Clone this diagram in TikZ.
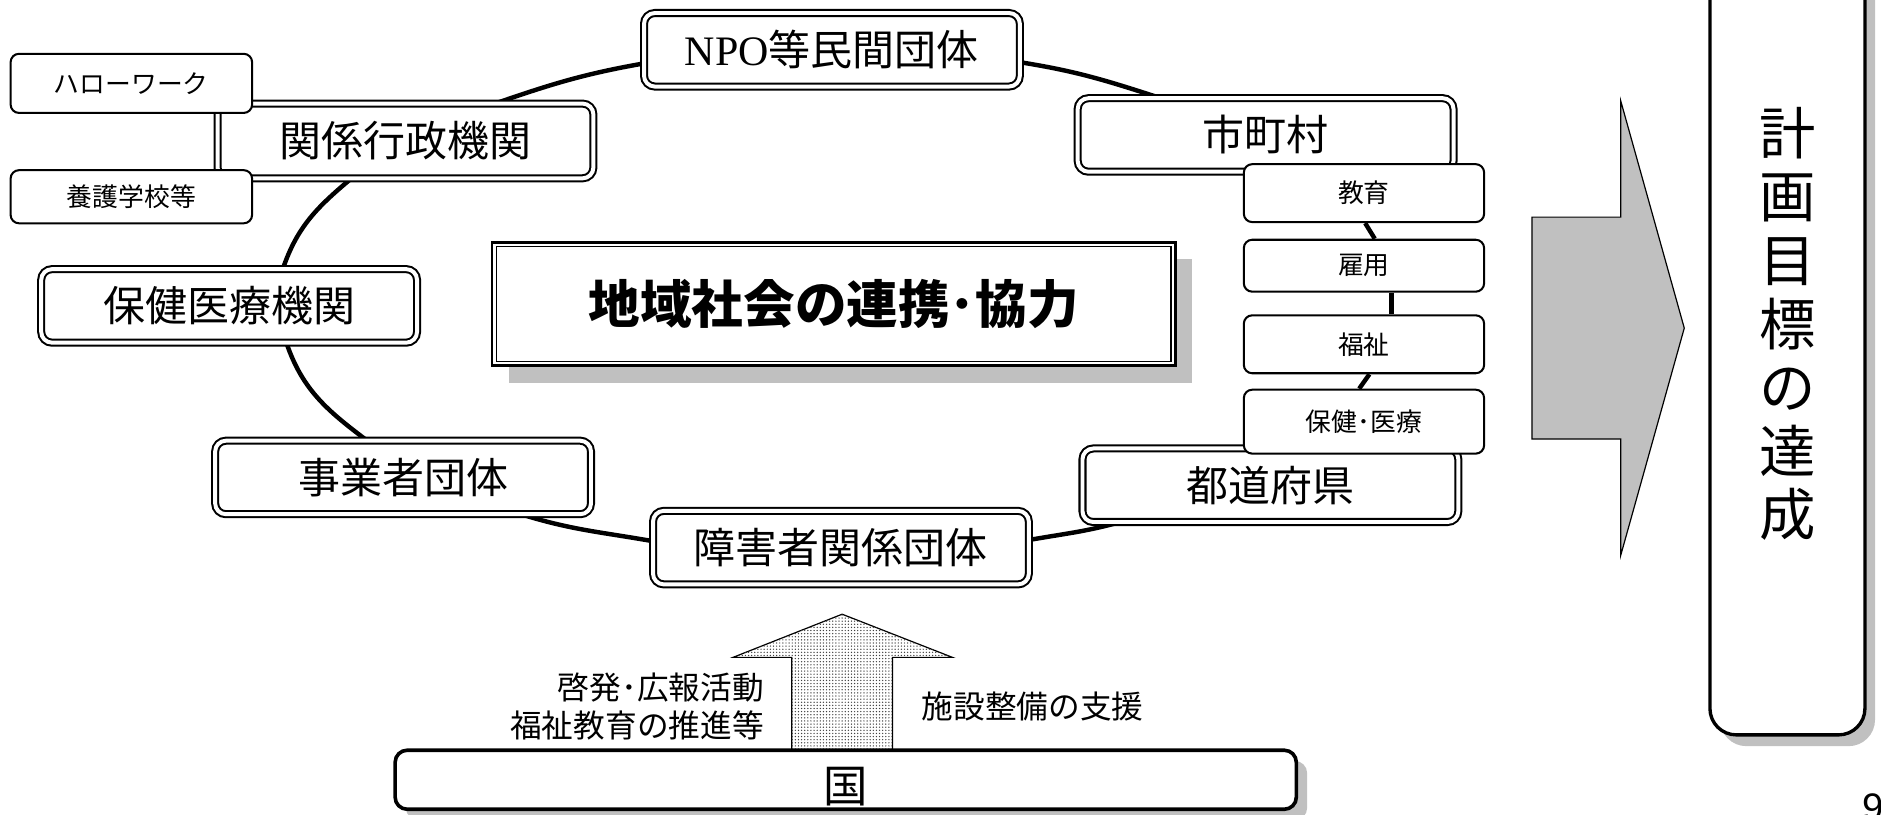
\documentclass[tikz,border=0pt]{standalone}
\usepackage{fontspec}
\setmainfont{Liberation Sans}
\newfontfamily\jp{Noto Sans CJK JP}
\newfontfamily\npofont{Liberation Serif}
\usetikzlibrary{backgrounds,shadows,patterns.meta}
\definecolor{silver}{RGB}{192,192,192}
\tikzset{
  dbox/.style={draw, double, double distance=1.65pt, line width=0.85pt, rounded corners=4.5pt,
    fill=white, minimum width=156.65pt, minimum height=30.65pt, inner sep=0pt,
    font=\jp\fontsize{17.5pt}{21pt}\selectfont},
  sbox/.style={draw, line width=0.85pt, rounded corners=3.5pt, fill=white,
    minimum width=100.15pt, inner sep=0pt, font=\jp\fontsize{10.75pt}{13pt}\selectfont},
  ring/.style={line width=1.85pt},
  gshadow/.style={drop shadow={shadow xshift=#1, shadow yshift=-#1, fill=silver, opacity=1}},
}
\begin{document}
\begin{tikzpicture}[x=0.5pt,y=-0.5pt]
\useasboundingbox (0,0) rectangle (1568,679);

% page number (cut by the page edge, as in the reference)
\node[anchor=base west, inner sep=0pt, font=\fontsize{16pt}{19pt}\selectfont] (pnum) at (1552,684) {9};

% ring of organisations
\node[dbox] (npo) at (693.5,41.5) {{\npofont NPO}等民間団体};
\node[dbox, minimum height=31.15pt] (kankei) at (338,117.5) {関係行政機関};
\node[dbox] (shichoson) at (1055,112.5) {市町村};
\node[dbox] (hokeniryo) at (191,255) {保健医療機関};
\node[dbox] (jigyosha) at (336,398) {事業者団体};
\node[dbox] (shogai) at (701,456.5) {障害者関係団体};
\node[dbox] (todofuken) at (1059,404.5) {都道府県};

\node[sbox, minimum width=100.65pt, minimum height=24.65pt] (hello) at (109.5,69.5) {ハローワーク};
\node[sbox, minimum width=100.65pt, minimum height=22.15pt] (yogo) at (109.5,164) {養護学校等};
\node[sbox, minimum height=24.15pt] (kyoiku) at (1137,161) {教育};
\node[sbox, minimum height=21.65pt] (koyo) at (1137,221.5) {雇用};
\node[sbox, minimum height=24.15pt] (fukushi) at (1137,287) {福祉};
\node[sbox, minimum height=26.65pt] (hoken) at (1137,351.5) {保健･医療};

% centre box
\node[draw, line width=1.1pt, fill=white, minimum width=284.9pt, minimum height=51.4pt,
  inner sep=0pt, gshadow=7pt, font=\jp\bfseries\fontsize{21.5pt}{26pt}\selectfont]
  (center) at (695,253.5) {地域社会の連携･協力};
\draw[line width=0.6pt] ([shift={(2.35pt,-2.35pt)}]center.north west)
  rectangle ([shift={(-2.35pt,2.35pt)}]center.south east);

% connectors
\begin{pgfonlayer}{background}
\draw[ring] ([xshift=38.5pt]kankei.north) to[out=19,in=190] ([yshift=-5.75pt]npo.west);
\draw[ring] ([yshift=-5.25pt]npo.east) to[out=-9,in=162] ([xshift=-45pt]shichoson.north);
\draw[ring] ([xshift=0.5pt]kyoiku.south) -- ([xshift=4.5pt]koyo.north);
\draw[ring] ([xshift=11.5pt]koyo.south) -- ([xshift=11.5pt]fukushi.north);
\draw[ring] ([xshift=2.25pt]fukushi.south) -- ([xshift=-2pt]hoken.north);
\draw[ring] ([yshift=3.25pt]shogai.east) to[out=10,in=195] ([xshift=-64pt]todofuken.south);
\draw[ring] ([xshift=50.5pt]jigyosha.south) to[out=-17,in=170] ([yshift=2.75pt]shogai.west);
\draw[ring] ([xshift=24pt]hokeniryo.south) to[out=-71,in=143] ([xshift=-15.5pt]jigyosha.north);
\draw[ring] ([xshift=-23pt]kankei.south) to[out=220,in=71] ([xshift=22.5pt]hokeniryo.north);
\end{pgfonlayer}

% dotted up arrow from the state
\draw[line width=0.5pt, fill=white, postaction={pattern={Dots[distance=1.3pt, radius=0.3pt]}, pattern color=black!75}]
  (660,632) -- (660,548) -- (611,548) -- (702,512) -- (794,548) -- (744,548) -- (744,632) -- cycle;

% state box
\node[draw, line width=1.5pt, fill=white, rounded corners=5pt, minimum width=375.6pt,
  minimum height=24.6pt, inner sep=0pt, gshadow=4.5pt] (kuni) at (705,650) {};
\node[font=\jp\fontsize{18.5pt}{22pt}\selectfont, inner sep=0pt] (kunitxt) at ([yshift=-3pt]kuni.center) {国};

\node[anchor=east, align=right, inner sep=0pt, font=\jp\fontsize{13.2pt}{16pt}\selectfont]
  (lbla) at (637,589) {啓発･広報活動\\福祉教育の推進等};
\node[anchor=west, inner sep=0pt, font=\jp\fontsize{13.2pt}{16pt}\selectfont]
  (lblb) at (768,589) {施設整備の支援};

% big grey arrow
\draw[fill=silver, line width=0.5pt] (1277,181) -- (1351,181) -- (1351,84) -- (1404,273.5)
  -- (1351,463) -- (1351,366) -- (1277,366) -- cycle;

% goal box
\node[draw, line width=1.4pt, fill=white, rounded corners=11pt, minimum width=64.6pt,
  minimum height=325.6pt, inner sep=0pt,
  drop shadow={shadow xshift=4.2pt, shadow yshift=-4.7pt, fill=silver, opacity=1}] (goal) at (1490,287) {};
\node[font=\jp\fontsize{23.5pt}{26.5pt}\selectfont, align=center, inner sep=0pt]
  (goaltxt) at (1490,270) {計\\画\\目\\標\\の\\達\\成};
\end{tikzpicture}
\end{document}
